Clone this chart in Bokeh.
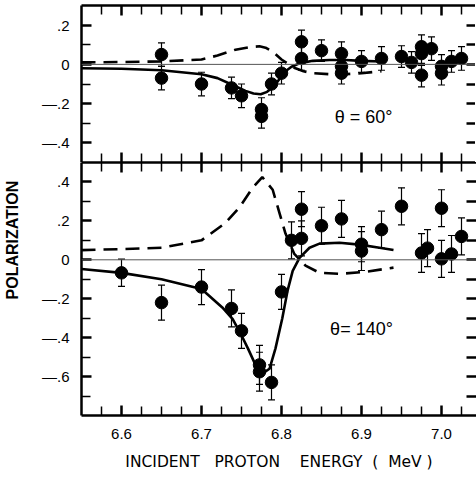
from bokeh.plotting import figure
from bokeh.models import (ColumnDataSource, Whisker, TeeHead, Span, Label,
                          LinearAxis, FixedTicker, Range1d, CustomLabelingPolicy)
from bokeh.layouts import column
from bokeh.embed import file_html
from bokeh.resources import INLINE

FONT = "Liberation Sans"
TFONT = "DejaVu Sans"

# ---------------- theta = 60 deg ----------------
energy_60 = [6.65, 6.65, 6.70, 6.7375, 6.75, 6.775, 6.775, 6.7875, 6.80, 6.825, 6.825,
             6.85, 6.875, 6.875, 6.875, 6.90, 6.925, 6.95, 6.9625, 6.975, 6.975, 6.975,
             6.9875, 7.00, 7.00, 7.0125, 7.025]
pol_60 = [0.05, -0.07, -0.10, -0.12, -0.16, -0.23, -0.265, -0.10, -0.045, 0.115, 0.03,
          0.07, 0.055, -0.01, -0.045, 0.015, 0.03, 0.04, 0.01, 0.09, 0.055, -0.055,
          0.08, -0.01, -0.045, 0.015, 0.03]
err_60 = [0.06, 0.06, 0.06, 0.055, 0.06, 0.06, 0.06, 0.055, 0.055, 0.06, 0.06,
          0.055, 0.06, 0.06, 0.055, 0.055, 0.06, 0.055, 0.055, 0.06, 0.06, 0.06,
          0.06, 0.06, 0.06, 0.055, 0.06]

solid_e_60 = [6.55, 6.60, 6.65, 6.70, 6.72, 6.739, 6.755, 6.765, 6.774, 6.782, 6.791,
              6.80, 6.805, 6.8125, 6.8225, 6.839, 6.86, 6.88, 6.90, 6.925]
solid_p_60 = [-0.02, -0.022, -0.03, -0.05, -0.07, -0.105, -0.135, -0.148, -0.152, -0.14,
              -0.11, -0.06, -0.035, -0.012, 0.005, 0.018, 0.022, 0.022, 0.018, 0.015]
dash_e_60 = [6.55, 6.60, 6.65, 6.70, 6.72, 6.7425, 6.76, 6.7725, 6.78, 6.789, 6.80,
             6.8075, 6.8175, 6.8275, 6.839, 6.86, 6.88, 6.90, 6.925]
dash_p_60 = [0.01, 0.012, 0.015, 0.025, 0.045, 0.075, 0.088, 0.092, 0.085, 0.065, 0.025,
             0.005, -0.02, -0.035, -0.045, -0.05, -0.05, -0.045, -0.035]

# ---------------- theta = 140 deg ----------------
energy_140 = [6.60, 6.65, 6.70, 6.7375, 6.75, 6.7725, 6.7725, 6.7875, 6.80, 6.8125,
              6.825, 6.825, 6.85, 6.875, 6.90, 6.90, 6.925, 6.95, 6.975, 6.9825,
              7.00, 7.00, 7.0125, 7.025]
pol_140 = [-0.067, -0.22, -0.14, -0.25, -0.365, -0.54, -0.575, -0.63, -0.165, 0.10,
           0.26, 0.11, 0.175, 0.21, 0.08, 0.045, 0.155, 0.275, 0.035, 0.06,
           0.265, 0.005, 0.03, 0.12]
err_140 = [0.07, 0.09, 0.09, 0.095, 0.09, 0.1, 0.1, 0.09, 0.09, 0.095,
           0.09, 0.09, 0.095, 0.095, 0.09, 0.1, 0.095, 0.095, 0.1, 0.095,
           0.095, 0.095, 0.095, 0.095]

solid_e_140 = [6.55, 6.60, 6.65, 6.70, 6.726, 6.739, 6.749, 6.758, 6.7675, 6.776, 6.785,
               6.7925, 6.801, 6.8075, 6.814, 6.8225, 6.835, 6.8475, 6.8725, 6.8975,
               6.9225, 6.94]
solid_p_140 = [-0.047, -0.067, -0.10, -0.15, -0.245, -0.305, -0.38, -0.455, -0.54, -0.585,
               -0.56, -0.455, -0.30, -0.16, -0.057, 0.01, 0.062, 0.083, 0.088, 0.078,
               0.062, 0.05]
dash_e_140 = [6.55, 6.60, 6.65, 6.70, 6.73, 6.7475, 6.764, 6.776, 6.789, 6.7975, 6.805,
              6.816, 6.83, 6.8475, 6.8725, 6.905, 6.94]
dash_p_140 = [0.05, 0.055, 0.062, 0.10, 0.19, 0.27, 0.37, 0.425, 0.36, 0.24, 0.135,
              0.03, -0.03, -0.067, -0.072, -0.062, -0.04]

# ---------------- ticks / texts ----------------
x_major = [6.6, 6.7, 6.8, 6.9, 7.0]
x_minor = [6.575, 6.625, 6.65, 6.675, 6.725, 6.75, 6.775, 6.825, 6.85, 6.875,
           6.925, 6.95, 6.975, 7.025]
x_labels = ["6.6", "6.7", "6.8", "6.9", "7.0"]

y_major_60 = [-0.4, -0.2, 0.0, 0.2]
y_minor_60 = [-0.3, -0.1, 0.1]
y_labels_60 = ["\u2014.4", "\u2014.2", "0", ".2"]

y_major_140 = [-0.6, -0.4, -0.2, 0.0, 0.2, 0.4]
y_minor_140 = [-0.7, -0.5, -0.3, -0.1, 0.1, 0.3]
y_labels_140 = ["\u2014.6", "\u2014.4", "\u2014.2", "0", ".2", ".4"]

NB = "\u00a0"
x_title = ("INCIDENT" + NB * 3 + "PROTON" + NB * 4 + "ENERGY" + NB * 2 +
           "(" + NB * 2 + "MeV" + NB + ")")
y_title = NB * 22 + "POLARIZATION"
label_60 = "\u03b8 = 60\u00b0"
label_140 = "\u03b8= 140\u00b0"


def style_axis(ax, labels):
    ax.axis_line_width = 2.5
    ax.axis_line_color = "black"
    ax.major_tick_in = 10
    ax.major_tick_out = 0
    ax.minor_tick_in = 9
    ax.minor_tick_out = 0
    ax.major_tick_line_width = 2.5
    ax.minor_tick_line_width = 1.5
    ax.major_label_text_font = FONT
    ax.major_label_text_color = "black"
    if labels:
        ax.major_label_text_font_size = "15px"
        ax.major_label_standoff = 12
    else:
        ax.major_label_text_font_size = "0px"
        ax.major_label_standoff = 0
        ax.major_label_policy = CustomLabelingPolicy(code="")


def make_panel(y_lo, y_hi, frame_h, ymaj, ymin, ylab, top_border, bottom_labels):
    p = figure(frame_width=395, frame_height=frame_h,
               x_range=Range1d(6.55, 7.04375), y_range=Range1d(y_lo, y_hi),
               output_backend="svg", toolbar_location=None,
               x_axis_location=None, y_axis_location=None,
               min_border_left=80, min_border_right=0,
               min_border_top=top_border, min_border_bottom=0)
    p.outline_line_color = None
    p.xgrid.visible = False
    p.ygrid.visible = False
    p.background_fill_color = "white"
    p.border_fill_color = "white"

    xt = FixedTicker(ticks=x_major, minor_ticks=x_minor)
    yt = FixedTicker(ticks=ymaj, minor_ticks=ymin)

    left = LinearAxis(ticker=yt)
    style_axis(left, True)
    left.major_label_overrides = {v: s for v, s in zip(ymaj, ylab)}
    p.add_layout(left, "left")

    right = LinearAxis(ticker=yt)
    style_axis(right, False)
    right.axis_line_color = None
    right.major_tick_in = 10
    right.minor_tick_in = 10
    right.minor_tick_line_width = 2.5
    p.add_layout(right, "right")

    above = LinearAxis(ticker=xt)
    style_axis(above, False)
    p.add_layout(above, "above")

    below = LinearAxis(ticker=xt)
    style_axis(below, bottom_labels)
    if bottom_labels:
        below.major_label_overrides = {v: s for v, s in zip(x_major, x_labels)}
        below.major_label_standoff = 13
        below.axis_label = x_title
        below.axis_label_text_font = TFONT
        below.axis_label_text_font_size = "15.5px"
        below.axis_label_text_font_style = "normal"
        below.axis_label_text_color = "black"
        below.axis_label_standoff = 11
    p.add_layout(below, "below")

    p.add_layout(Span(location=0, dimension="width", line_width=1, line_color="#555"))
    return p, left


def add_data(p, e, pol, err, se, sp, de, dp):
    src = ColumnDataSource(dict(x=e, y=pol,
                                upper=[a + b for a, b in zip(pol, err)],
                                lower=[a - b for a, b in zip(pol, err)]))
    w = Whisker(source=src, base="x", upper="upper", lower="lower",
                dimension="height", line_width=1.2, line_color="black",
                upper_head=TeeHead(size=7, line_width=1.2, line_color="black"),
                lower_head=TeeHead(size=7, line_width=1.2, line_color="black"))
    p.add_layout(w)
    p.line(se, sp, line_width=2.6, line_color="black")
    p.line(de, dp, line_width=2.6, line_color="black", line_dash="14 8")
    p.scatter("x", "y", source=src, size=12.5, fill_color="black", line_color="black")


top, _ = make_panel(-0.5, 0.3, 157, y_major_60, y_minor_60, y_labels_60, 5, False)
add_data(top, energy_60, pol_60, err_60, solid_e_60, solid_p_60, dash_e_60, dash_p_60)
top.add_layout(Label(x=6.9025, y=-0.27, text=label_60, text_font=FONT,
                     text_font_size="18px", text_align="center", text_baseline="middle",
                     text_color="black"))

bot, bot_left = make_panel(-0.8, 0.5, 253, y_major_140, y_minor_140, y_labels_140, 0, True)
bot_left.axis_label = y_title
bot_left.axis_label_text_font = FONT
bot_left.axis_label_text_font_size = "16px"
bot_left.axis_label_text_font_style = "bold"
bot_left.axis_label_text_color = "black"
bot_left.axis_label_standoff = 18
add_data(bot, energy_140, pol_140, err_140, solid_e_140, solid_p_140, dash_e_140, dash_p_140)
bot.add_layout(Label(x=6.90, y=-0.355, text=label_140, text_font=FONT,
                     text_font_size="18px", text_align="center", text_baseline="middle",
                     text_color="black"))

layout = column(top, bot, spacing=0)
open("out.html", "w").write(file_html(layout, INLINE))
